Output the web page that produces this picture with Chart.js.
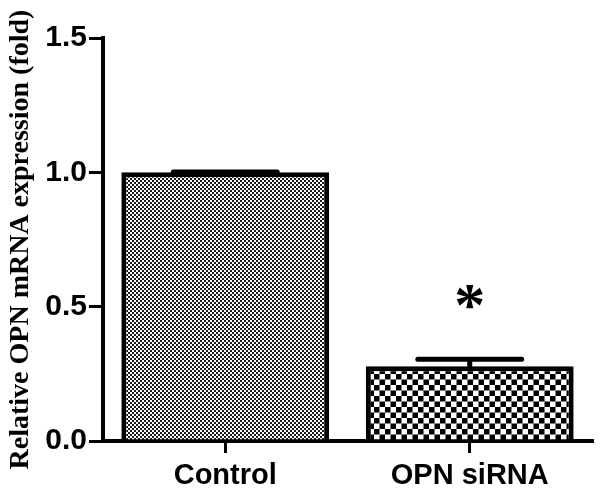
<!DOCTYPE html>
<html>
<head>
<meta charset="utf-8">
<script src="https://cdn.jsdelivr.net/npm/chart.js@4/dist/chart.umd.min.js"></script>
<style>
  html, body { margin: 0; padding: 0; background: #fff; }
  #wrap { width: 602px; height: 499px; }
</style>
</head>
<body>
<div id="wrap"><canvas id="c" width="602" height="499"></canvas></div>
<script>
const categories = ["Control", "OPN siRNA"];
const values = [1.0, 0.278];
const errors = [0.001, 0.026];
const marks = ["", "*"];
const yTicks = [0, 0.5, 1.0, 1.5];

function checker(size, color) {
  const c = document.createElement("canvas");
  c.width = size * 2;
  c.height = size * 2;
  const g = c.getContext("2d");
  g.fillStyle = "#fff";
  g.fillRect(0, 0, c.width, c.height);
  g.fillStyle = color;
  g.fillRect(0, 0, size, size);
  g.fillRect(size, size, size, size);
  return document.getElementById("c").getContext("2d").createPattern(c, "repeat");
}

const fills = [checker(2, "#1a1a1a"), checker(5.5, "#000")];

// error bars + significance marks, positioned from the scales
const extras = {
  id: "extras",
  afterDatasetsDraw(chart) {
    const ctx = chart.ctx;
    const y = chart.scales.y;
    const meta = chart.getDatasetMeta(0);
    ctx.save();
    ctx.strokeStyle = "#000";
    ctx.lineWidth = 5;
    ctx.lineCap = "round";
    meta.data.forEach((bar, i) => {
      const top = y.getPixelForValue(values[i] + errors[i]);
      const base = y.getPixelForValue(values[i]);
      const half = bar.width / 4;
      ctx.beginPath();
      ctx.moveTo(bar.x, base);
      ctx.lineTo(bar.x, top);
      ctx.moveTo(bar.x - half, top);
      ctx.lineTo(bar.x + half, top);
      ctx.stroke();
      if (marks[i]) {
        ctx.font = "bold 62px 'Liberation Serif', serif";
        ctx.fillStyle = "#000";
        ctx.textAlign = "center";
        ctx.textBaseline = "alphabetic";
        const m = ctx.measureText(marks[i]);
        const h = m.actualBoundingBoxAscent + m.actualBoundingBoxDescent;
        const cy = top - 62;
        ctx.fillText(marks[i], bar.x, cy + h / 2 - m.actualBoundingBoxDescent);
      }
    });
    ctx.restore();
  }
};

new Chart(document.getElementById("c"), {
  type: "bar",
  data: {
    labels: categories,
    datasets: [{
      data: values,
      backgroundColor: fills,
      borderColor: "#000",
      borderWidth: 5,
      borderSkipped: "bottom",
      barPercentage: 0.85,
      categoryPercentage: 1.0
    }]
  },
  plugins: [extras],
  options: {
    responsive: false,
    animation: false,
    devicePixelRatio: 1,
    layout: { padding: { top: 38, right: 10, left: 4, bottom: 0 } },
    plugins: { legend: { display: false }, tooltip: { enabled: false } },
    scales: {
      x: {
        afterFit: (s) => { s.height = 58; },
        grid: { display: true, offset: false, drawOnChartArea: false, tickLength: 12, lineWidth: 3, color: "#000" },
        border: { display: true, color: "#000", width: 4 },
        ticks: { color: "#000", padding: 6, font: { family: "Arial, 'Liberation Sans'", size: 29, weight: "bold" } }
      },
      y: {
        min: 0,
        max: 1.5,
        afterFit: (s) => { s.width = 99; },
        afterBuildTicks: (s) => { s.ticks = yTicks.map((v) => ({ value: v })); },
        grid: { display: true, drawOnChartArea: false, tickLength: 14, lineWidth: 3, color: "#000" },
        border: { display: true, color: "#000", width: 4 },
        ticks: {
          color: "#000",
          padding: 2,
          font: { family: "Arial, 'Liberation Sans'", size: 30, weight: "bold" },
          callback: (v) => Number(v).toFixed(1)
        },
        title: {
          display: true,
          text: "Relative OPN mRNA expression (fold)",
          color: "#000",
          padding: { top: 0, bottom: 0 },
          font: { family: "'Liberation Serif', 'Times New Roman', serif", size: 28, weight: "bold" }
        }
      }
    }
  }
});
</script>
</body>
</html>
